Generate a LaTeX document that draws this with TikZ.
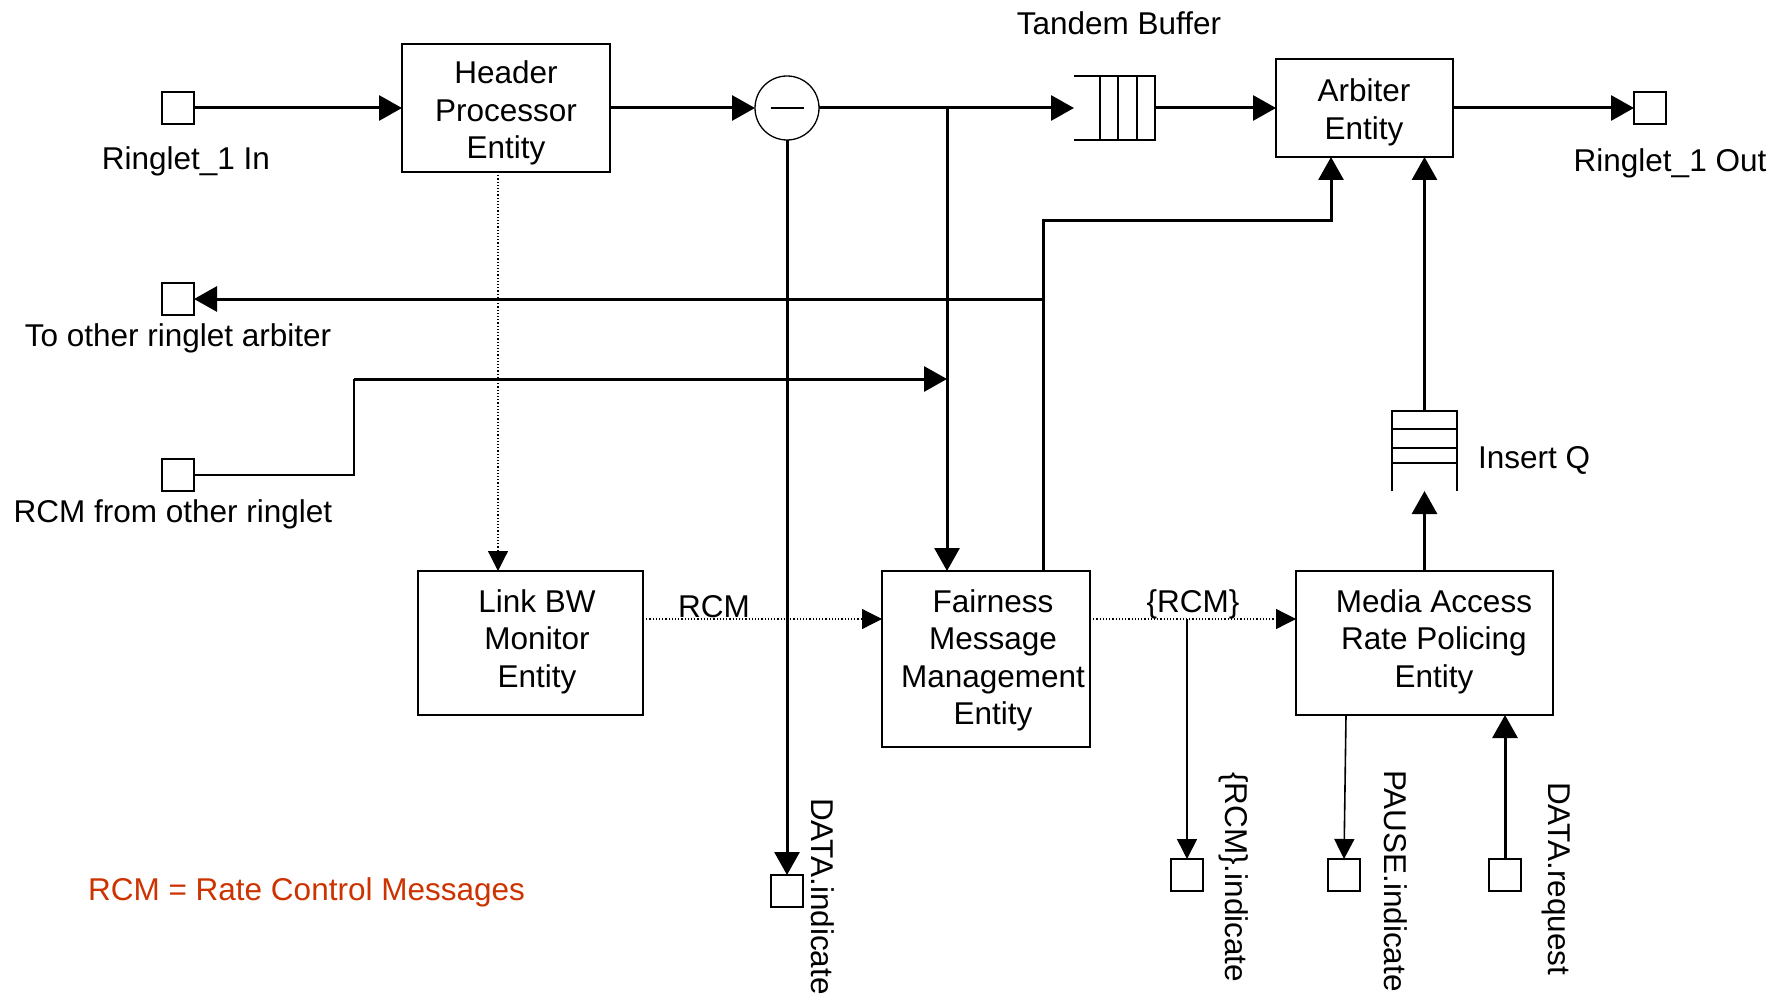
\documentclass[tikz,border=0pt]{standalone}
\usepackage{fontspec}
\setmainfont{Liberation Sans}
\usetikzlibrary{arrows.meta}
\definecolor{legendred}{RGB}{204,51,0}
\begin{document}
\begin{tikzpicture}[x=0.5pt,y=-0.5pt,
  every node/.style={font=\fontsize{15.75pt}{18.75pt}\selectfont, inner sep=0pt, outer sep=0pt},
  box/.style={draw, line width=0.65pt, rectangle},
  port/.style={draw, line width=0.65pt, rectangle, minimum size=16pt},
  thickline/.style={line width=1.5pt},
  thinline/.style={line width=0.8pt},
  tipthick/.style={-{Triangle[length=11.5pt,width=12.5pt]}},
  tipthin/.style={-{Triangle[length=10pt,width=10pt]}},
  dots/.style={line width=0.6pt, dash pattern=on 0.6pt off 1pt},
  lbl/.style={anchor=base},
  vlbl/.style={rotate=-90, anchor=base west},
  boxtext/.style={anchor=north, align=center},
]
\useasboundingbox (0,0) rectangle (1781,1000);

% ---- boxes
\node[box, minimum width=104pt, minimum height=64pt] (hp) at (506,108) {};
\node[box, minimum width=88.5pt, minimum height=49pt] (arb) at (1364.5,108) {};
\node[box, minimum width=112.5pt, minimum height=72pt] (lb) at (530.5,643) {};
\node[box, minimum width=104pt, minimum height=88pt] (fm) at (986,659) {};
\node[box, minimum width=128.5pt, minimum height=72pt] (ma) at (1424.5,643) {};

\node[boxtext] (thp) at (506,61) {Header\\Processor\\Entity};
\node[boxtext] (tarb) at (1364,79) {Arbiter\\Entity};
\node[boxtext] (tlb) at (537,589.5) {Link BW\\Monitor\\Entity};
\node[boxtext] (tfm) at (993,589.5) {Fairness\\Message\\Management\\Entity};
\node[boxtext] (tma) at (1434,589.5) {Media Access\\Rate Policing\\Entity};

% ---- subtractor
\node[draw, circle, line width=0.65pt, minimum size=32pt] (circ) at (787,108) {};
\draw[line width=0.65pt] ([xshift=-8.25pt]circ.center) -- ([xshift=8.25pt]circ.center);

% ---- tandem buffer
\node[minimum width=40.5pt, minimum height=32pt] (tb) at (1114.5,108) {};
\draw[line width=0.65pt] (tb.north west) -- (tb.north east) -- (tb.south east) -- (tb.south west);
\foreach \dx in {13,22,31.5} \draw[line width=0.65pt] ([xshift=\dx pt]tb.north west) -- ([xshift=\dx pt]tb.south west);

% ---- insert queue
\node[minimum width=32.5pt, minimum height=40pt] (iq) at (1424.5,451) {};
\draw[line width=0.65pt] (iq.south west) -- (iq.north west) -- (iq.north east) -- (iq.south east);
\foreach \dy in {9,18.5,26} \draw[line width=0.65pt] ([yshift=-\dy pt]iq.north west) -- ([yshift=-\dy pt]iq.north east);

% ---- ports
\node[port] (inP) at (178,108) {};
\node[port] (outP) at (1650,108) {};
\node[port] (toOther) at (178,299) {};
\node[port] (rcmOther) at (178,475) {};
\node[port] (dataInd) at (787,891) {};
\node[port] (rcmInd) at (1187,875) {};
\node[port] (pauseInd) at (1344,875) {};
\node[port] (dataReq) at (1505,875) {};

% ---- helper coordinates
\coordinate (br) at (947,108);
\coordinate (j1) at (1043,221);
\coordinate (a1) at (1331,221);
\coordinate (k1) at (354,379);
\coordinate (ry) at (0,619);
\coordinate (ri) at (1187,619);
\coordinate (p1) at (1346,0);

% ---- thick data path
\draw[thickline,tipthick] (inP.east) -- (hp.west);
\draw[thickline,tipthick] (hp.east) -- (circ.west);
\draw[thickline,tipthick] (circ.east) -- (tb.west);
\draw[thickline,tipthick] (br) -- (br |- fm.north);
\draw[thickline,tipthick] (tb.east) -- (arb.west);
\draw[thickline,tipthick] (arb.east) -- (outP.west);
\draw[thickline,tipthick] (circ.south) -- (dataInd.north);
\draw[thickline,tipthick] (j1 |- fm.north) -- (j1) -- (a1) -- (a1 |- arb.south);
\draw[thickline,tipthick] (j1 |- toOther) -- (toOther.east);
\draw[thinline] (rcmOther.east) -| (k1);
\draw[thickline,tipthick] (k1) -- (k1 -| br);
\draw[thickline,tipthick] (iq.north) -- (iq.north |- arb.south);
\draw[thickline,tipthick] (ma.north) -- (iq.south);
\draw[thickline,tipthick] (dataReq.north) -- (dataReq.north |- ma.south);

% ---- thin / dotted
\draw[dots,tipthin] ([xshift=-4pt]hp.south) -- ([xshift=-4pt]hp.south |- lb.north);
\draw[dots,tipthin] (lb.east |- ry) -- (fm.west |- ry);
\draw[dots,tipthin] (fm.east |- ry) -- (ma.west |- ry);
\draw[thinline,tipthin] (ri) -- (rcmInd.north);
\draw[thinline,tipthin] (ma.south -| p1) -- (pauseInd.north);

% ---- labels
\node[lbl] (tIn) at (186,170) {Ringlet\_1 In};
\node[lbl] (tOut) at (1670,172) {Ringlet\_1 Out};
\node[lbl] (tOther) at (178,346) {To other ringlet arbiter};
\node[lbl] (tRcmOther) at (173,522) {RCM from other ringlet};
\node[lbl] (tTandem) at (1119,35) {Tandem Buffer};
\node[anchor=base west] (tIQ) at (1478,468) {Insert Q};
\node[lbl] (tRcm) at (714,617) {RCM};
\node[lbl] (tRcmSet) at (1193,612) {\{RCM\}};
\node[lbl, text=legendred] (legend) at (306.5,900) {RCM = Rate Control Messages};

\node[vlbl] (tDI) at (811,798) {DATA.indicate};
\node[vlbl] (tRI) at (1225,772) {\{RCM\}.indicate};
\node[vlbl] (tPI) at (1384,770) {PAUSE.indicate};
\node[vlbl] (tDR) at (1548,782) {DATA.request};
\end{tikzpicture}
\end{document}
